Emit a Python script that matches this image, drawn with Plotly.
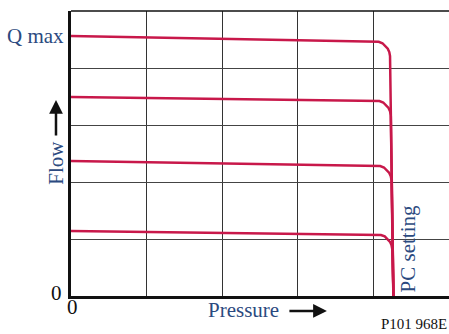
import plotly.graph_objects as go

# Curves: pressure (x) vs flow (y), one per PC setting level
curve1_x = [0, 4.02, 4.07, 4.12, 4.16, 4.19, 4.21, 4.22, 4.265]
curve1_y = [4.56, 4.47, 4.46, 4.435, 4.39, 4.34, 4.28, 4.21, 0]
curve2_x = [0, 4.03, 4.08, 4.13, 4.17, 4.20, 4.22, 4.23, 4.265]
curve2_y = [3.49, 3.43, 3.42, 3.395, 3.35, 3.30, 3.24, 3.17, 0]
curve3_x = [0, 4.04, 4.09, 4.14, 4.18, 4.21, 4.23, 4.24, 4.265]
curve3_y = [2.37, 2.29, 2.28, 2.255, 2.21, 2.16, 2.10, 2.03, 0]
curve4_x = [0, 4.05, 4.10, 4.15, 4.19, 4.22, 4.24, 4.25, 4.265]
curve4_y = [1.14, 1.08, 1.07, 1.045, 1.00, 0.95, 0.89, 0.82, 0]

curves = [(curve1_x, curve1_y), (curve2_x, curve2_y),
          (curve3_x, curve3_y), (curve4_x, curve4_y)]

RED = "#C8184A"
BLUE = "#2B4A80"
SERIF = "Liberation Serif, Times New Roman, serif"

fig = go.Figure()
for cx, cy in curves:
    fig.add_trace(go.Scatter(x=cx, y=cy, mode="lines",
                             line=dict(color=RED, width=2.5),
                             showlegend=False, hoverinfo="skip"))

fig.update_layout(
    width=449, height=334,
    margin=dict(l=71, r=0, t=11, b=38),
    paper_bgcolor="white", plot_bgcolor="white",
    xaxis=dict(range=[0, 5], dtick=1, showticklabels=False,
               showgrid=True, gridcolor="#333", gridwidth=1,
               zeroline=False, showline=True, linecolor="#111", linewidth=2.5,
               ticks=""),
    yaxis=dict(range=[0, 5], dtick=1, showticklabels=False,
               showgrid=True, gridcolor="#444", gridwidth=1,
               zeroline=False, showline=True, linecolor="#111", linewidth=2.5,
               ticks=""),
    shapes=[dict(type="line", xref="paper", yref="paper", x0=0, x1=1, y0=1, y1=1,
                 line=dict(color="#111", width=1.5))],
)

ann = [
    dict(text="Q max", x=-0.013, y=0.912, xanchor="right", yanchor="middle",
         font=dict(family=SERIF, size=21, color=BLUE)),
    dict(text="0", x=-0.018, y=0.012, xanchor="right", yanchor="middle",
         font=dict(family=SERIF, size=21, color="#111")),
    dict(text="0", x=0.004, y=-0.04, xanchor="center", yanchor="middle",
         font=dict(family=SERIF, size=21, color="#111")),
    dict(text="Flow", x=-0.042, y=0.468, xanchor="center", yanchor="middle",
         textangle=-90, font=dict(family=SERIF, size=21, color=BLUE)),
    dict(text="Pressure", x=0.456, y=-0.049, xanchor="center", yanchor="middle",
         font=dict(family=SERIF, size=21, color=BLUE)),
    dict(text="PC setting", x=0.8915, y=0.167, xanchor="center", yanchor="middle",
         textangle=-90, font=dict(family=SERIF, size=21, color=BLUE)),
    dict(text="P101 968E", x=1.0, y=-0.098, xanchor="right", yanchor="middle",
         font=dict(family=SERIF, size=15, color="#111")),
]
for a in ann:
    a["xref"] = "paper"
    a["yref"] = "paper"
    a["showarrow"] = False
    fig.add_annotation(**a)

# Arrows
fig.add_annotation(x=-0.0397, y=0.688, ax=0, ay=37, xref="paper", yref="paper",
                   text="", showarrow=True,
                   arrowhead=2, arrowsize=1.1, arrowwidth=2.5, arrowcolor="#111")
fig.add_annotation(x=0.677, y=-0.0526, ax=-39, ay=0, xref="paper", yref="paper",
                   text="", showarrow=True,
                   arrowhead=2, arrowsize=1.1, arrowwidth=2.5, arrowcolor="#111")

fig.write_html("out.html")
